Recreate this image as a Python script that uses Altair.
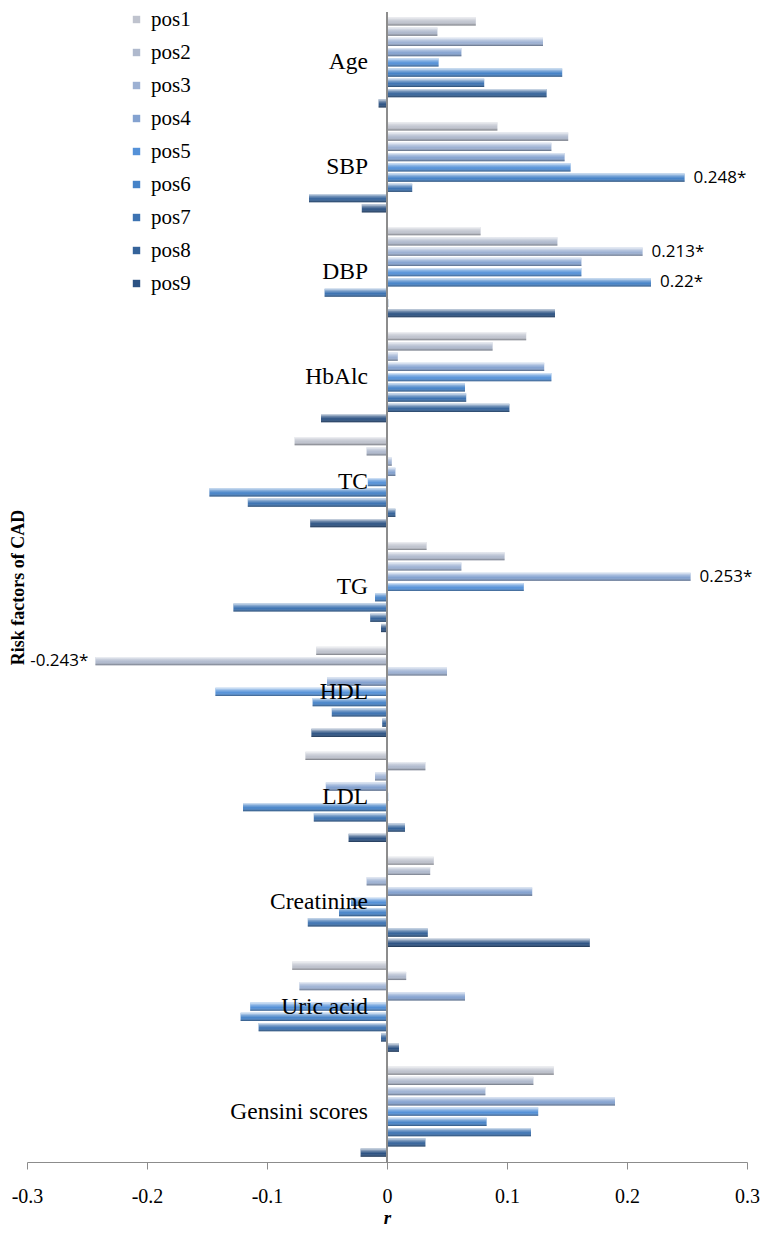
import altair as alt
import pandas as pd

categories = ["Age", "SBP", "DBP", "HbAlc", "TC", "TG", "HDL", "LDL",
              "Creatinine", "Uric acid", "Gensini scores"]
positions = ["pos1", "pos2", "pos3", "pos4", "pos5", "pos6", "pos7", "pos8", "pos9"]

age = [0.074, 0.042, 0.130, 0.062, 0.043, 0.146, 0.081, 0.133, -0.007]
sbp = [0.092, 0.151, 0.137, 0.148, 0.153, 0.248, 0.021, -0.065, -0.021]
dbp = [0.078, 0.142, 0.213, 0.162, 0.162, 0.220, -0.052, 0.001, 0.140]
hba1c = [0.116, 0.088, 0.009, 0.131, 0.137, 0.065, 0.066, 0.102, -0.055]
tc = [-0.077, -0.017, 0.004, 0.007, -0.016, -0.148, -0.116, 0.007, -0.064]
tg = [0.033, 0.098, 0.062, 0.253, 0.114, -0.010, -0.128, -0.014, -0.005]
hdl = [-0.059, -0.243, 0.050, -0.050, -0.143, -0.062, -0.046, -0.004, -0.063]
ldl = [-0.068, 0.032, -0.010, -0.051, 0.001, -0.120, -0.061, 0.015, -0.032]
creatinine = [0.039, 0.036, -0.017, 0.121, -0.030, -0.040, -0.066, 0.034, 0.169]
uric_acid = [-0.079, 0.016, -0.073, 0.065, -0.114, -0.122, -0.107, -0.005, 0.010]
gensini = [0.139, 0.122, 0.082, 0.190, 0.126, 0.083, 0.120, 0.032, -0.022]

series = [age, sbp, dbp, hba1c, tc, tg, hdl, ldl, creatinine, uric_acid, gensini]

# significant correlations labelled in the chart
sig_cats = ["SBP", "DBP", "DBP", "TG", "HDL"]
sig_pos = ["pos6", "pos3", "pos6", "pos4", "pos2"]
sig_text = ["0.248*", "0.213*", "0.22*", "0.253*", "-0.243*"]

colors = ["#bfc3ce", "#afb9cd", "#9db1d3", "#84a2d0", "#5491d8",
          "#4683c8", "#3d73b2", "#35639a", "#2c5283"]

rows = []
for c, vals in zip(categories, series):
    for p, v in zip(positions, vals):
        rows.append({"cat": c, "pos": p, "r": v})
df = pd.DataFrame(rows)

lookup = {(r["cat"], r["pos"]): r["r"] for r in rows}
ann = pd.DataFrame({
    "cat": sig_cats, "pos": sig_pos, "label": sig_text,
    "r": [lookup[(c, p)] for c, p in zip(sig_cats, sig_pos)],
})
cat_df = pd.DataFrame({"cat": categories})

SERIF = "serif"

y_axis = alt.Axis(labels=False, ticks=False, domain=False, grid=False,
                  title="Risk factors of CAD", titleFont=SERIF, titleFontSize=18,
                  titleFontWeight="bold", titleColor="black",
                  titleAngle=270, titleX=-9, titleY=575,
                  titleAlign="center", titleBaseline="middle")
y_scale = alt.Scale(paddingInner=0.14, paddingOuter=0.05)
x_axis = alt.Axis(values=[-0.3, -0.2, -0.1, 0, 0.1, 0.2, 0.3], grid=False,
                  domainColor="#8c8c8c", tickColor="#8c8c8c", tickSize=7,
                  labelFont=SERIF, labelFontSize=20, labelColor="black",
                  labelPadding=17, labelFlush=False, labelOverlap=False,
                  labelExpr="datum.value == 0 ? '0' : (datum.value < 0 ? '-' : '') + format(abs(datum.value), '.1f')",
                  title="r", titleFont=SERIF, titleFontStyle="italic",
                  titleFontWeight="bold", titleFontSize=19, titleColor="black",
                  titlePadding=2)
x_scale = alt.Scale(domain=[-0.3, 0.3], nice=False, zero=False)


def Y():
    return alt.Y("cat:N", sort=categories, scale=y_scale, axis=y_axis)


def YO():
    return alt.YOffset("pos:N", sort=positions, scale=alt.Scale(paddingInner=0.2))


def X(field="r:Q"):
    return alt.X(field, scale=x_scale, axis=x_axis)


bars = alt.Chart(df).mark_bar(strokeWidth=0).encode(
    y=Y(), yOffset=YO(), x=X(),
    color=alt.Color("pos:N", sort=positions,
                    scale=alt.Scale(domain=positions, range=colors),
                    legend=alt.Legend(orient="none", legendX=99, legendY=-3,
                                      title=None, symbolType="square",
                                      symbolSize=55, symbolStrokeWidth=0,
                                      labelFont=SERIF, labelFontSize=21,
                                      labelColor="black", labelOffset=4,
                                      rowPadding=11, padding=0)),
)

shade = alt.Chart(df).mark_bar(
    color=alt.Gradient(
        gradient="linear", x1=0, y1=0, x2=0, y2=1,
        stops=[alt.GradientStop(color="rgba(255,255,255,0.8)", offset=0),
               alt.GradientStop(color="rgba(255,255,255,0.3)", offset=0.3),
               alt.GradientStop(color="rgba(255,255,255,0.0)", offset=0.6),
               alt.GradientStop(color="rgba(0,0,0,0.4)", offset=1)]),
    strokeWidth=0,
).encode(y=Y(), yOffset=YO(), x=X())

zero = alt.Chart(cat_df).mark_rule(color="#8c8c8c", strokeWidth=1).encode(
    x=alt.datum(0, scale=x_scale, axis=x_axis))

cat_labels = alt.Chart(cat_df).mark_text(
    align="right", baseline="middle", dx=-19, font=SERIF, fontSize=23.5, color="black"
).encode(x=alt.datum(0, scale=x_scale, axis=x_axis), y=Y(), text="cat:N")

ann_pos = alt.Chart(ann).transform_filter("datum.r > 0").mark_text(
    align="left", baseline="middle", dx=9, font="Open Sans", fontSize=17, color="black"
).encode(x=X(), y=Y(), yOffset=YO(), text="label:N")

ann_neg = alt.Chart(ann).transform_filter("datum.r < 0").mark_text(
    align="right", baseline="middle", dx=-7, font="Open Sans", fontSize=17, color="black"
).encode(x=X(), y=Y(), yOffset=YO(), text="label:N")

chart = alt.layer(bars, shade, zero, cat_labels, ann_pos, ann_neg).properties(
    width=720, height=1150,
    autosize=alt.AutoSizeParams(type="none"),
    padding={"left": 19, "top": 4, "right": 13, "bottom": 66},
).configure(font=SERIF).configure_view(stroke=None).configure_axis(
    labelFont=SERIF, titleFont=SERIF
).configure_legend(labelFont=SERIF)

chart.save("out.html", embed_options={"renderer": "svg", "actions": False})
